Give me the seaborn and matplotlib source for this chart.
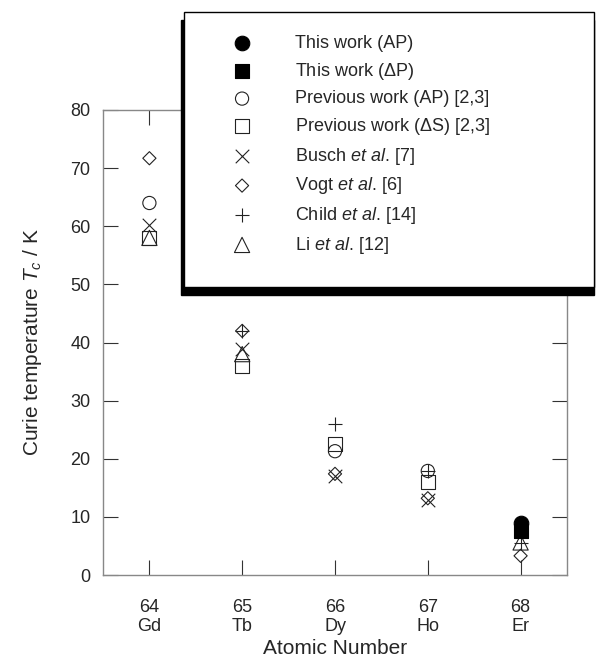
import matplotlib
matplotlib.use("Agg")
import matplotlib.pyplot as plt
import seaborn as sns
from matplotlib.patches import Rectangle

# Curie temperatures
elements = ["Gd", "Tb", "Dy", "Ho", "Er"]
numbers = [64, 65, 66, 67, 68]

this_ap_x = [68]
this_ap_y = [8.9]
this_dp_x = [68]
this_dp_y = [7.5]
prev_ap_x = [64, 66, 67]
prev_ap_y = [64.0, 21.3, 17.9]
prev_ds_x = [64, 65, 66, 67]
prev_ds_y = [58.0, 36.0, 22.5, 16.0]
busch_x = [64, 65, 66, 67]
busch_y = [60.2, 38.9, 17.0, 12.9]
vogt_x = [64, 65, 66, 67, 68]
vogt_y = [71.7, 42.0, 17.4, 13.2, 3.3]
child_x = [65, 66, 67, 68]
child_y = [42.0, 26.0, 17.9, 5.5]
li_x = [64, 65, 68]
li_y = [58.0, 38.0, 5.6]

sns.set_theme(style="ticks")
plt.rcParams["font.family"] = ["Liberation Sans", "DejaVu Sans"]
plt.rcParams["mathtext.fontset"] = "custom"
plt.rcParams["mathtext.rm"] = "Liberation Sans"
plt.rcParams["mathtext.it"] = "Liberation Sans:italic"

W, H = 596, 669
fig = plt.figure(figsize=(W / 100, H / 100), dpi=100)
ax = fig.add_axes([103 / W, 1 - 575 / H, 464 / W, 465 / H])

lw = 0.8
ink = "#222222"
series = [
    (this_ap_x, this_ap_y, "o", 110, "filled", "This work (AP)"),
    (this_dp_x, this_dp_y, "s", 110, "filled", "This work ($\\Delta$P)"),
    (prev_ap_x, prev_ap_y, "o", 90, "open", "Previous work (AP) [2,3]"),
    (prev_ds_x, prev_ds_y, "s", 100, "open", "Previous work ($\\Delta$S) [2,3]"),
    (busch_x, busch_y, "x", 95, "line", "Busch $\\it{et\\ al}$. [7]"),
    (vogt_x, vogt_y, "D", 45, "open", "Vogt $\\it{et\\ al}$. [6]"),
    (child_x, child_y, "+", 110, "line", "Child $\\it{et\\ al}$. [14]"),
    (li_x, li_y, "^", 120, "open", "Li $\\it{et\\ al}$. [12]"),
]

for xs, ys, mk, size, kind, lab in series:
    if kind == "filled":
        sns.scatterplot(x=xs, y=ys, marker=mk, s=size, color="black",
                        edgecolor="black", linewidth=lw, label=lab, ax=ax, zorder=3)
    elif kind == "open":
        sns.scatterplot(x=xs, y=ys, marker=mk, s=size, facecolor="none",
                        edgecolor=ink, linewidth=lw, label=lab, ax=ax, zorder=2)
    else:
        sns.scatterplot(x=xs, y=ys, marker=mk, s=size, color=ink,
                        linewidth=lw, label=lab, ax=ax, zorder=2)

handles, labels = ax.get_legend_handles_labels()
if ax.get_legend() is not None:
    ax.get_legend().remove()

ax.set_xlim(63.5, 68.5)
ax.set_ylim(0, 80)
ax.set_xticks(numbers)
ax.set_xticklabels([f"{n}\n{e}" for n, e in zip(numbers, elements)])
ax.set_yticks(range(0, 81, 10))
ax.tick_params(direction="in", length=11, width=0.8, color="#333333",
               labelsize=13, top=True, right=True)
ax.tick_params(axis="x", pad=17)
ax.tick_params(axis="y", pad=9)
for t in ax.get_xticklabels():
    t.set_linespacing(1.15)
for sp in ax.spines.values():
    sp.set_color("#888888")
    sp.set_linewidth(1.0)

ax.set_xlabel("Atomic Number", fontsize=15, labelpad=3)
ax.set_ylabel("Curie temperature $T_{\\it{c}}$ / K", fontsize=15, labelpad=19)

# legend box with dark shadow, sits partly outside the axes
shadow = Rectangle((181 / W, 1 - 295 / H), 413 / W, 275 / H, transform=fig.transFigure,
                   facecolor="black", edgecolor="black", zorder=5)
box = Rectangle((184 / W, 1 - 287 / H), 410 / W, 275 / H, transform=fig.transFigure,
                facecolor="white", edgecolor="black", linewidth=1.0, zorder=6)
fig.patches.extend([shadow, box])

leg = fig.legend(handles, labels, loc="upper left", bbox_to_anchor=(224 / W, 1 - 35 / H),
                 frameon=False, fontsize=13, borderpad=0, borderaxespad=0,
                 handlelength=2, handletextpad=1.95, labelspacing=0.48)
leg.set_zorder(7)

fig.savefig("out.png", dpi=100)
